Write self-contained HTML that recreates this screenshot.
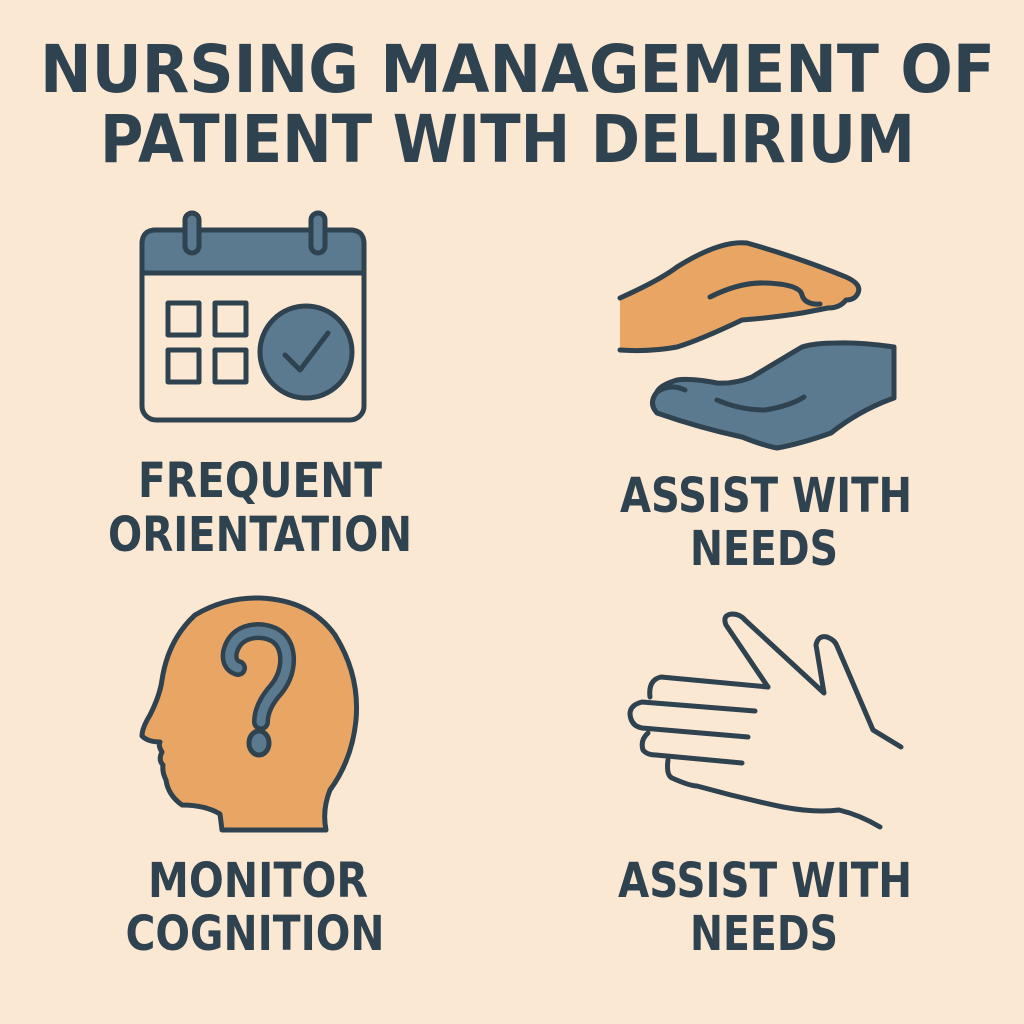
<!DOCTYPE html>
<html><head><meta charset="utf-8"><style>
html,body{margin:0;padding:0;background:#fbe8d3;}
svg{display:block}
text{font-family:"DejaVu Sans","Liberation Sans",sans-serif;font-weight:bold;fill:#2f4250;}
</style></head><body>
<svg width="1024" height="1024" viewBox="0 0 1024 1024" xmlns="http://www.w3.org/2000/svg">
<rect width="1024" height="1024" fill="#fbe8d3"/>
<text x="40" y="92" font-size="66" textLength="955" lengthAdjust="spacingAndGlyphs">NURSING MANAGEMENT OF</text>
<text x="100" y="162" font-size="66" textLength="815" lengthAdjust="spacingAndGlyphs">PATIENT WITH DELIRIUM</text>

<g font-size="48" text-anchor="middle">
<text x="260" y="497" textLength="244" lengthAdjust="spacingAndGlyphs">FREQUENT</text>
<text x="260" y="551" textLength="304" lengthAdjust="spacingAndGlyphs">ORIENTATION</text>
<text x="766" y="512" textLength="292" lengthAdjust="spacingAndGlyphs">ASSIST WITH</text>
<text x="764" y="565" textLength="148" lengthAdjust="spacingAndGlyphs">NEEDS</text>
<text x="258" y="897" textLength="220" lengthAdjust="spacingAndGlyphs">MONITOR</text>
<text x="255" y="950" textLength="259" lengthAdjust="spacingAndGlyphs">COGNITION</text>
<text x="765" y="897" textLength="294" lengthAdjust="spacingAndGlyphs">ASSIST WITH</text>
<text x="764" y="950" textLength="148" lengthAdjust="spacingAndGlyphs">NEEDS</text>
</g>

<g stroke="#2f4250" stroke-width="5" stroke-linejoin="round" stroke-linecap="round">
<!-- calendar -->
<rect x="142" y="230" width="222" height="190" rx="14" fill="#fbe8d3"/>
<path d="M142 273 V244 Q142 230 156 230 H350 Q364 230 364 244 V273 Z" fill="#5b7a90"/>
<rect x="185" y="213" width="14" height="40" rx="7" fill="#5b7a90"/>
<rect x="311" y="213" width="14" height="40" rx="7" fill="#5b7a90"/>
<rect x="168" y="303" width="31" height="32" fill="none"/>
<rect x="215" y="303" width="31" height="32" fill="none"/>
<rect x="168" y="350" width="31" height="32" fill="none"/>
<rect x="215" y="350" width="31" height="32" fill="none"/>
<circle cx="306" cy="352" r="46" fill="#5b7a90"/>
<path d="M285 355 L300 370 L328 333" fill="none"/>

<!-- top hands -->
<path d="M620 298 Q660 280 677 267 Q720 240 747 243 Q800 258 846 277 Q862 284 858 293 Q855 300 846 300 Q840 308 828 308 L802 313 Q770 318 742 320 Q700 340 677 347 Q650 352 620 350" fill="#e9a563"/>
<path d="M710 297 Q740 282 765 283 Q800 284 802 295 Q805 305 820 304" fill="none"/>
<path d="M894 347 Q860 342 836 343 Q815 343 802 347 Q780 360 752 377 Q735 384 717 383 Q690 378 677 380 Q660 385 657 392 Q648 403 657 413 Q700 428 742 437 Q765 446 777 448 Q800 444 831 433 Q860 410 894 398 Z" fill="#5b7a90"/>
<path d="M717 400 Q740 410 765 410 Q790 406 804 397" fill="none"/>
<path d="M657 392 Q670 383 685 390" fill="none"/>

<!-- head -->
<path d="M222 830 L220 814 Q205 805 182 805 Q168 795 166 780 Q162 772 163 765 Q158 760 162 752 Q158 746 160 742 Q148 742 142 736 Q142 728 150 715 Q160 695 162 680 Q168 640 195 615 Q225 597 260 598 Q310 600 335 635 Q360 675 356 720 Q352 760 330 790 Q322 810 326 830 Z" fill="#e9a563"/>
<path d="M238 668 Q228 665 230 652 Q235 632 258 631 Q285 632 287 657 Q288 677 273 693 Q261 708 261 722" fill="none" stroke="#2f4250" stroke-width="18"/>
<path d="M238 668 Q228 665 230 652 Q235 632 258 631 Q285 632 287 657 Q288 677 273 693 Q261 708 261 722" fill="none" stroke="#5b7a90" stroke-width="9"/>
<ellipse cx="259" cy="743" rx="10" ry="12" fill="#5b7a90"/>

<!-- outline hand -->
<g fill="none">
<path d="M768 687 L661 677 Q648 680 650 697"/>
<path d="M755 711 L642 702 Q630 705 630 714 Q631 726 642 728 L748 737"/>
<path d="M648 733 Q640 740 643 750 Q647 755 656 755 L742 763"/>
<path d="M668 760 Q666 775 672 778 Q690 786 697 786 Q740 798 783 807 Q815 813 839 810 Q860 815 880 827"/>
<path d="M768 687 L726 625 Q722 615 732 614 Q740 614 745 620 L824 693 L816 645 Q818 635 827 637 Q835 640 837 646 L873 730 L901 747"/>
</g>
</g>
</svg>
</body></html>
